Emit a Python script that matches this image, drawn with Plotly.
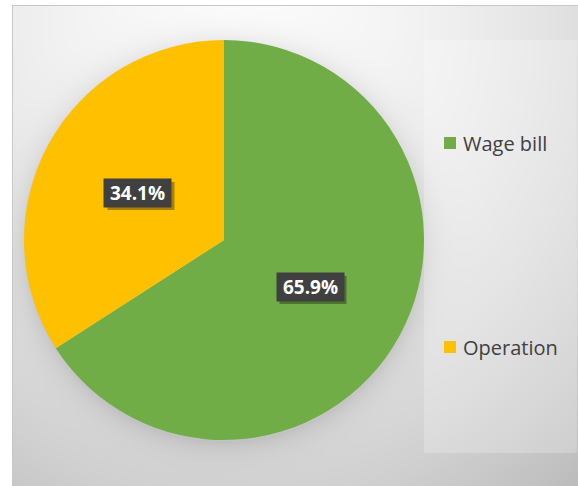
import base64
import math
import struct
import zlib

import numpy as np
import plotly.graph_objects as go

# ---- data -------------------------------------------------------------
labels = ["Wage bill", "Operation"]
shares = [65.9, 34.1]
colors = ["#70ad47", "#ffc000"]

W, H = 578, 486
CX, CY, R = 224, 240, 200          # pie centre / radius in pixels
BOX_W, BOX_H, PAD = 61, 22, 3      # data-label box (inner size + padding)


def png_data_uri(arr):
    """Encode an HxWx3 uint8 array as a PNG data URI."""
    h, w, _ = arr.shape
    raw = b"".join(b"\x00" + arr[y].tobytes() for y in range(h))

    def chunk(tag, data):
        c = struct.pack(">I", len(data)) + tag + data
        return c + struct.pack(">I", zlib.crc32(tag + data) & 0xFFFFFFFF)

    png = b"\x89PNG\r\n\x1a\n"
    png += chunk(b"IHDR", struct.pack(">IIBBBBB", w, h, 8, 2, 0, 0, 0))
    png += chunk(b"IDAT", zlib.compress(raw, 9))
    png += chunk(b"IEND", b"")
    return "data:image/png;base64," + base64.b64encode(png).decode()


# ---- background: soft radial gradient with a glow around the pie ------
yy, xx = np.mgrid[0:H, 0:W].astype(float)
r = np.sqrt(((xx - 240) / 420) ** 2 + ((yy - 30) / 460) ** 2)
bg = 253 - 13.4 * r - 29.6 * r ** 2
d = np.sqrt((xx - CX) ** 2 + (yy - CY - 3) ** 2)
bg -= np.where(d > R - 2, 22 * np.exp(-(d - R) / 14.0), 22)
# lighter legend panel
panel = (xx >= 424) & (xx <= 576) & (yy >= 40) & (yy <= 452)
bg = np.where(panel, bg + (255 - bg) * 0.22, bg)
bg = np.clip(bg, 0, 255)
# white page outside the chart frame, grey frame line
bg[:5, :] = 255
bg[:, :12] = 255
bg[5, 12:] = 200
bg[5:, 12] = 200
img = np.repeat(bg.astype(np.uint8)[:, :, None], 3, axis=2)

fig = go.Figure()
fig.add_trace(go.Pie(
    labels=labels,
    values=shares,
    marker=dict(colors=colors, line=dict(width=0)),
    sort=False,
    direction="clockwise",
    rotation=0,
    textinfo="none",
    hoverinfo="label+percent",
    showlegend=False,
    domain=dict(x=[(CX - R) / W, (CX + R) / W],
                y=[1 - (CY + R) / H, 1 - (CY - R) / H]),
))

annotations = []
shapes = []
total = sum(shares)
start = 0.0
for lab, val in zip(labels, shares):
    mid = (start + val / 2) / total * 2 * math.pi   # clockwise from 12 o'clock
    start += val
    px = CX + 0.49 * R * math.sin(mid)
    py = CY - 0.49 * R * math.cos(mid)
    # drop shadow behind the label box
    hw, hh = BOX_W / 2 + PAD, BOX_H / 2 + PAD
    shapes.append(dict(type="rect", xref="paper", yref="paper",
                       x0=(px - hw + 3) / W, x1=(px + hw + 3) / W,
                       y0=1 - (py + hh + 3) / H, y1=1 - (py - hh + 3) / H,
                       fillcolor="rgba(0,0,0,0.33)", line=dict(width=0),
                       layer="above"))
    annotations.append(dict(
        x=px / W, y=1 - py / H, xref="paper", yref="paper",
        xanchor="center", yanchor="middle",
        text=f"<b>{val:.1f}%</b>", showarrow=False,
        width=BOX_W, height=BOX_H, borderpad=PAD,
        font=dict(family="Open Sans", size=19, color="white"),
        bgcolor="#404040"))

# legend entries
legend_y = [143, 347]
for lab, col, ly in zip(labels, colors, legend_y):
    shapes.append(dict(type="rect", xref="paper", yref="paper",
                       x0=444 / W, x1=456 / W,
                       y0=1 - (ly + 6) / H, y1=1 - (ly - 6) / H,
                       fillcolor=col, line=dict(width=0)))
    annotations.append(dict(
        x=461 / W, y=1 - ly / H, xref="paper", yref="paper", text=lab,
        xanchor="left", yanchor="middle", showarrow=False,
        font=dict(family="Open Sans", size=20, color="#404040")))

fig.update_layout(
    width=W, height=H,
    margin=dict(l=0, r=0, t=0, b=0),
    paper_bgcolor="white",
    plot_bgcolor="white",
    images=[dict(source=png_data_uri(img), xref="paper", yref="paper",
                 x=0, y=1, sizex=1, sizey=1, sizing="stretch",
                 xanchor="left", yanchor="top", layer="below")],
    shapes=shapes,
    annotations=annotations,
)

fig.write_html("out.html")
